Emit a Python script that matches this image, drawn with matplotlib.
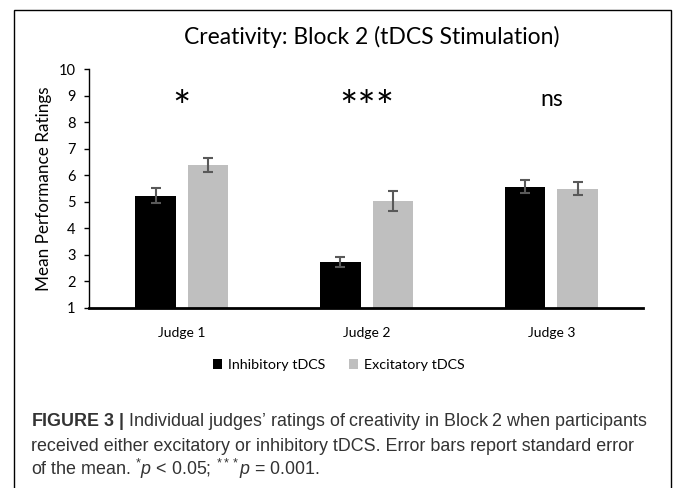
import numpy as np
import matplotlib
matplotlib.use("Agg")
import matplotlib.pyplot as plt
from matplotlib.patches import Rectangle

# data
judges = ["Judge 1", "Judge 2", "Judge 3"]
inhibitory = [5.23, 2.71, 5.57]
inhibitory_err = [0.28, 0.19, 0.25]
excitatory = [6.39, 5.03, 5.50]
excitatory_err = [0.27, 0.38, 0.25]
signif = ["*", "***", "ns"]
yticks = list(range(1, 11))

W, H = 673, 488
fig = plt.figure(figsize=(W / 100, H / 100), dpi=100)
plt.rcParams['font.family'] = ['Lato', 'DejaVu Sans']
plt.rcParams['mathtext.fontset'] = 'custom'
plt.rcParams['mathtext.rm'] = 'Liberation Sans'
plt.rcParams['mathtext.it'] = 'Liberation Sans:italic'
plt.rcParams['mathtext.bf'] = 'Liberation Sans:bold'

# axes placed in pixel terms of the reference
left, right, top, bottom = 89, 642.5, 69.5, 307.7
ax = fig.add_axes([left / W, 1 - bottom / H, (right - left) / W, (bottom - top) / H])

x = np.arange(len(judges))
bw = 0.219
off = 0.142
err_kw = dict(ecolor="#595959", elinewidth=1.5, capsize=3.5, capthick=1.5)
ax.bar(x - off, np.array(inhibitory) - 1, bw, bottom=1, color="black",
       yerr=inhibitory_err, error_kw=err_kw, label="Inhibitory tDCS")
ax.bar(x + off, np.array(excitatory) - 1, bw, bottom=1, color="#bfbfbf",
       yerr=excitatory_err, error_kw=err_kw, label="Excitatory tDCS")

for xi, s in zip(x, signif):
    if s == "ns":
        ax.text(xi, 8.88, s, ha="center", va="center", fontsize=16.5)
    else:
        ax.text(xi, 8.5, s, ha="center", va="center", fontsize=31)

ax.set_xlim(-0.503, 2.493)
ax.set_ylim(1, 10)
ax.set_yticks(yticks)
ax.tick_params(axis="y", labelsize=10.5, length=3.6, width=1, direction="out", pad=6)
ax.set_xticks(x)
ax.set_xticklabels(judges, fontsize=10)
ax.tick_params(axis="x", length=0, pad=14)
for sp in ["top", "right"]:
    ax.spines[sp].set_visible(False)
ax.spines["bottom"].set_linewidth(2)
ax.spines["left"].set_linewidth(1)
ax.set_ylabel("Mean Performance Ratings", fontsize=12.3, labelpad=5)

fig.text(372 / W, 1 - 37 / H, "Creativity: Block 2 (tDCS Stimulation)",
         ha="center", va="center", fontsize=16.5)

fig.legend(loc="center", bbox_to_anchor=(339 / W, 1 - 365 / H), ncol=2,
           frameon=False, fontsize=10.3, handlelength=0.65, handleheight=0.65,
           columnspacing=1.6, handletextpad=0.45)

# outer frame
fig.add_artist(Rectangle((14 / W, -0.05), (671 - 14) / W, 1.05 - 10 / H,
                         transform=fig.transFigure, fill=False,
                         edgecolor="black", linewidth=1))

# caption
cap = dict(fontsize=12.9, family="Liberation Sans", color="#333333", va="baseline")
fig.text(31 / W, 1 - 426 / H,
         r"$\mathbf{FIGURE\ 3\ |}$ Individual judges’ ratings of creativity in Block 2 when participants",
         **cap)
fig.text(31 / W, 1 - 451 / H,
         "received either excitatory or inhibitory tDCS. Error bars report standard error", **cap)
fig.text(31 / W, 1 - 475 / H,
         r"of the mean. $^{*}\mathit{p}$ < 0.05; $^{***}\mathit{p}$ = 0.001.", **cap)

fig.savefig("out.png", dpi=100)
